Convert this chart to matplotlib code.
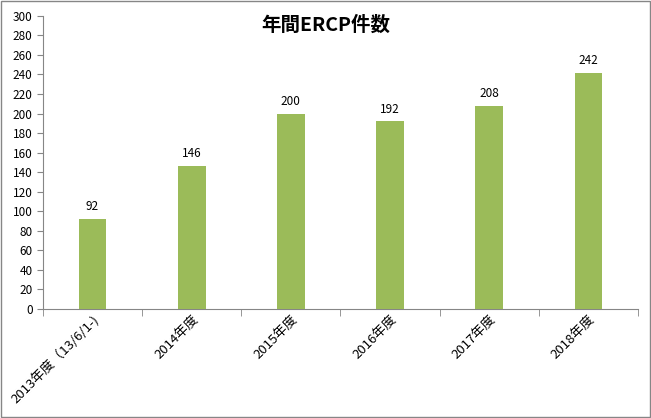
import numpy as np
import matplotlib.pyplot as plt
from matplotlib.patches import Rectangle

plt.rcParams['font.family'] = ['Noto Sans CJK JP', 'DejaVu Sans']

categories = ['2013年度（13/6/1-)', '2014年度', '2015年度', '2016年度', '2017年度', '2018年度']
counts = [92, 146, 200, 192, 208, 242]
title = '年間ERCP件数'

fig = plt.figure(figsize=(6.51, 4.18), dpi=100)
ax = fig.add_axes([0.066, 0.261, 0.914, 0.701])

x = np.arange(len(categories))
ax.bar(x, counts, width=0.28, color='#9BBB59', zorder=3)
for xi, v in zip(x, counts):
    ax.text(xi, v + 6, str(v), ha='center', va='bottom', fontsize=8.5)

ax.set_xlim(-0.5, len(categories) - 0.5)
ax.set_ylim(0, 300)
ax.set_yticks(np.arange(0, 301, 20))
ax.tick_params(axis='y', labelsize=8.5, length=4, color='#868686')
ax.set_xticks(x)
ax.set_xticklabels(categories, rotation=45, ha='right', rotation_mode='anchor', fontsize=9.5)
ax.tick_params(axis='x', length=0, pad=3)
# tick marks between categories
ax.set_xticks(np.arange(-0.5, len(categories)), minor=True)
ax.tick_params(axis='x', which='minor', length=5, color='#868686')

for s in ['top', 'right']:
    ax.spines[s].set_visible(False)
for s in ['left', 'bottom']:
    ax.spines[s].set_color('#868686')

fig.text(0.5, 0.94, title, ha='center', va='center', fontsize=14, fontweight='bold')

fig.patches.append(Rectangle((0.002, 0.003), 0.996, 0.994, transform=fig.transFigure,
                             fill=False, edgecolor='#868686', linewidth=1))

fig.savefig('out.png', dpi=100)
